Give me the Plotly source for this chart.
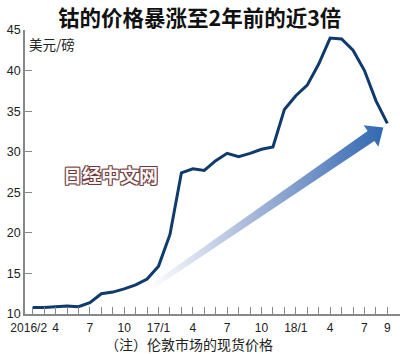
import plotly.graph_objects as go
import math

# ---- data ----
months = list(range(32))  # 2016/2 ... 2018/9
prices = [10.8, 10.8, 10.9, 11.0, 10.9, 11.4, 12.5, 12.7, 13.1, 13.6, 14.3, 15.9,
          19.8, 27.4, 27.9, 27.7, 28.9, 29.8, 29.4, 29.8, 30.3, 30.6, 35.2, 36.9,
          38.2, 40.8, 44.0, 43.9, 42.5, 40.0, 36.3, 33.5]
label_months = [0, 2, 5, 8, 11, 14, 17, 20, 23, 26, 29, 31]
label_texts = ['2016/2', '4', '7', '10', '17/1', '4', '7', '10', '18/1', '4', '7', '9']
y_ticks = [10, 15, 20, 25, 30, 35, 40, 45]

title = '钴的价格暴涨至2年前的近3倍'
unit = '美元/磅'
note = '（注）伦敦市场的现货价格'
watermark = '日经中文网'

W, H = 400, 354
# plot area in pixels
px_left, px_right, px_top, px_bottom = 25, 400, 30, 314
x0_i, px_per_month = 32.7, 11.44
x_range = [(px_left - x0_i) / px_per_month, (px_right - x0_i) / px_per_month]
y_range = [10, 45]
px_per_unit = (px_bottom - px_top) / (y_range[1] - y_range[0])


def to_data(px, py):
    return ((px - x0_i) / px_per_month, y_range[0] + (px_bottom - py) / px_per_unit)


# decorative arrow (pixel geometry -> data coords)
T = (150, 288)
B = (371, 136)
L = math.hypot(B[0] - T[0], B[1] - T[1])
u = ((B[0] - T[0]) / L, (B[1] - T[1]) / L)
n = (-u[1], u[0])
w_tail, w, h, head_len = 2.5, 6, 13, 15
P = (B[0] + head_len * u[0], B[1] + head_len * u[1])
pts = [
    (T[0] - w_tail * n[0], T[1] - w_tail * n[1]),
    (B[0] - w * n[0], B[1] - w * n[1]),
    (B[0] - h * n[0], B[1] - h * n[1]),
    P,
    (B[0] + h * n[0], B[1] + h * n[1]),
    (B[0] + w * n[0], B[1] + w * n[1]),
    (T[0] + w_tail * n[0], T[1] + w_tail * n[1]),
]
ax_, ay_ = zip(*[to_data(*p) for p in pts])

fig = go.Figure()
fig.add_trace(go.Scatter(
    x=list(ax_) + [ax_[0]], y=list(ay_) + [ay_[0]], mode='lines', fill='toself',
    line=dict(width=0, color='rgba(0,0,0,0)'),
    fillgradient=dict(type='horizontal',
                      colorscale=[[0, 'rgba(255,255,255,1)'], [0.45, '#a5b6d8'],
                                  [1, '#3168b2']]),
    hoverinfo='skip', showlegend=False))

fig.add_trace(go.Scatter(
    x=months, y=prices, mode='lines',
    line=dict(color='#0e3b6b', width=3),
    showlegend=False, cliponaxis=False))

tick_font = dict(family='Liberation Sans, Arial, sans-serif', size=12, color='#222')

# first label nudged left slightly, like the reference
label_pos = [m - 0.35 if i == 0 else m for i, m in enumerate(label_months)]

fig.update_layout(
    width=W, height=H,
    margin=dict(l=0, r=0, t=0, b=0),
    paper_bgcolor='white', plot_bgcolor='white',
    xaxis=dict(domain=[px_left / W, px_right / W], range=x_range, automargin=False,
               tickmode='array', tickvals=label_pos, ticktext=label_texts,
               tickangle=0, ticks='', ticklen=7, ticklabelstandoff=2,
               minor=dict(tickmode='array', tickvals=months, ticks='inside', ticklen=7,
                          tickwidth=1, tickcolor='#888', showgrid=False),
               showline=True, linecolor='#888', linewidth=2,
               showgrid=False, zeroline=False, tickfont=tick_font),
    yaxis=dict(domain=[1 - px_bottom / H, 1 - px_top / H], range=y_range, automargin=False,
               tickmode='array', tickvals=y_ticks,
               ticks='inside', ticklen=7, tickwidth=1, tickcolor='#888',
               showline=True, linecolor='#888', linewidth=1.5,
               showgrid=False, zeroline=False, tickfont=dict(tick_font, size=12.5)),
    annotations=[
        dict(text=f'<b>{title}</b>', x=199 / W, y=1 - 17 / H, xref='paper', yref='paper',
             showarrow=False, xanchor='center', yanchor='middle',
             font=dict(family='Noto Sans CJK SC', size=21.5, color='#111')),
        dict(text=unit, x=27 / W, y=1 - 44 / H, xref='paper', yref='paper',
             showarrow=False, xanchor='left', yanchor='middle',
             font=dict(family='Noto Sans CJK SC', size=13.5, color='#222')),
        dict(text=note, x=189 / W, y=1 - 344 / H, xref='paper', yref='paper',
             showarrow=False, xanchor='center', yanchor='middle',
             font=dict(family='Noto Sans CJK SC', size=14, color='#222')),
        dict(text=f'<b>{watermark}</b>', x=110 / W, y=1 - 175 / H, xref='paper', yref='paper',
             showarrow=False, xanchor='center', yanchor='middle',
             font=dict(family='Noto Sans CJK SC', size=19, color='#fbf4f4',
                       shadow='1px 1px 0 #6b3a3a, -1px -1px 0 #6b3a3a, 1px -1px 0 #6b3a3a, -1px 1px 0 #6b3a3a')),
    ],
)

fig.write_html('out.html')
